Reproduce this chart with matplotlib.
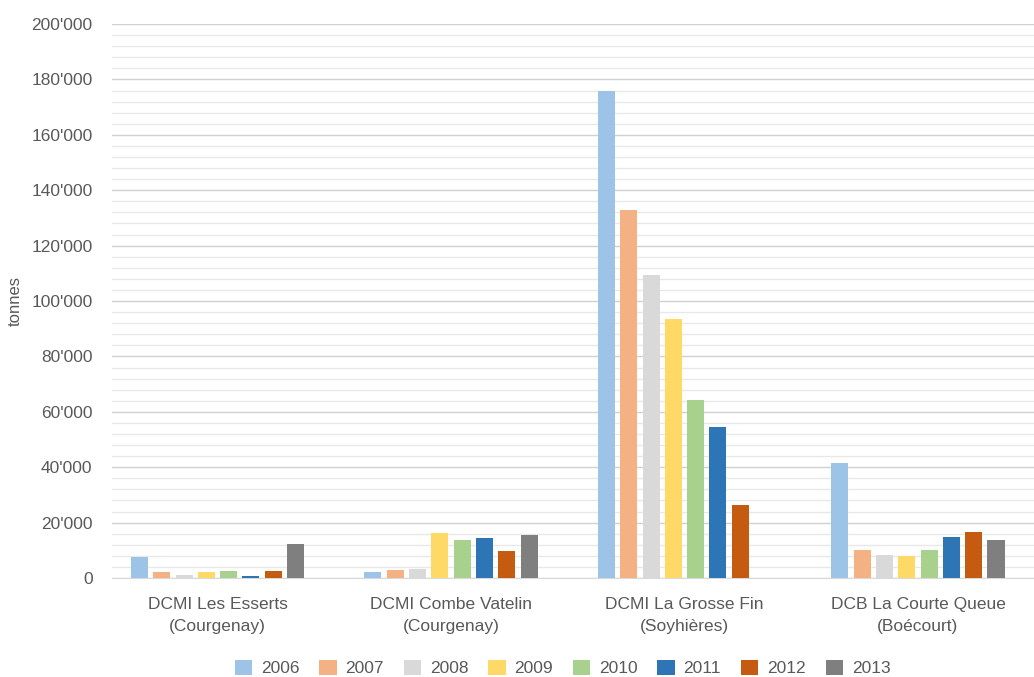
import numpy as np
import matplotlib
matplotlib.use("Agg")
import matplotlib.pyplot as plt
from matplotlib.ticker import FuncFormatter, MultipleLocator

plt.rcParams['font.family'] = ['Liberation Sans', 'DejaVu Sans']

# donnees
sites = ["DCMI Les Esserts\n(Courgenay)", "DCMI Combe Vatelin\n(Courgenay)",
         "DCMI La Grosse Fin\n(Soyhières)", "DCB La Courte Queue\n(Boécourt)"]
years = ["2006", "2007", "2008", "2009", "2010", "2011", "2012", "2013"]
v2006 = [7700, 2300, 175800, 41400]
v2007 = [2300, 2900, 132900, 10100]
v2008 = [1100, 3100, 109400, 8200]
v2009 = [2300, 16400, 93500, 8100]
v2010 = [2600, 13800, 64300, 10100]
v2011 = [800, 14600, 54400, 14800]
v2012 = [2600, 9900, 26400, 16500]
v2013 = [12200, 15700, 0, 13700]
series = [v2006, v2007, v2008, v2009, v2010, v2011, v2012, v2013]
colors = ["#9DC3E6", "#F4B183", "#D9D9D9", "#FFD966",
          "#A9D18E", "#2E75B6", "#C55A11", "#7F7F7F"]

fig = plt.figure(figsize=(10.34, 6.77), dpi=100)
ax = fig.add_axes([0.1083, 0.1462, 0.8917, 0.8183])

x = np.arange(len(sites))
pitch = 0.0955
w = 0.073
for i, (vals, c, yr) in enumerate(zip(series, colors, years)):
    ax.bar(x + (i - 3.5) * pitch, vals, width=w, color=c, label=yr, zorder=3)

ax.set_xlim(-0.452, 3.497)
ax.set_ylim(0, 200000)
ax.yaxis.set_major_locator(MultipleLocator(20000))
ax.yaxis.set_minor_locator(MultipleLocator(4000))
ax.yaxis.set_major_formatter(FuncFormatter(lambda v, p: f"{int(v):,}".replace(",", "'")))
ax.grid(axis='y', which='major', color='#D0D0D0', linewidth=1.0, zorder=0)
ax.grid(axis='y', which='minor', color='#E8E8E8', linewidth=1.0, zorder=0)
ax.set_axisbelow(True)

for s in ['top', 'right', 'left']:
    ax.spines[s].set_visible(False)
ax.spines['bottom'].set_color('#D9D9D9')
ax.tick_params(axis='both', which='both', length=0, colors='#595959', labelsize=12.5)
ax.tick_params(axis='x', pad=14)
ax.tick_params(axis='y', pad=14)
ax.set_xticks(x)
ax.set_xticklabels(sites, fontsize=12.5, color='#595959', linespacing=1.55)
ax.set_ylabel("tonnes", fontsize=12, color='#595959', labelpad=6)

fig.legend(loc='lower center', bbox_to_anchor=(0.544, -0.022), ncol=8, frameon=False,
           fontsize=12.5, handlelength=1.0, handleheight=1.0, handletextpad=0.5,
           columnspacing=1.15, labelcolor='#595959')

fig.savefig("out.png", dpi=100)
